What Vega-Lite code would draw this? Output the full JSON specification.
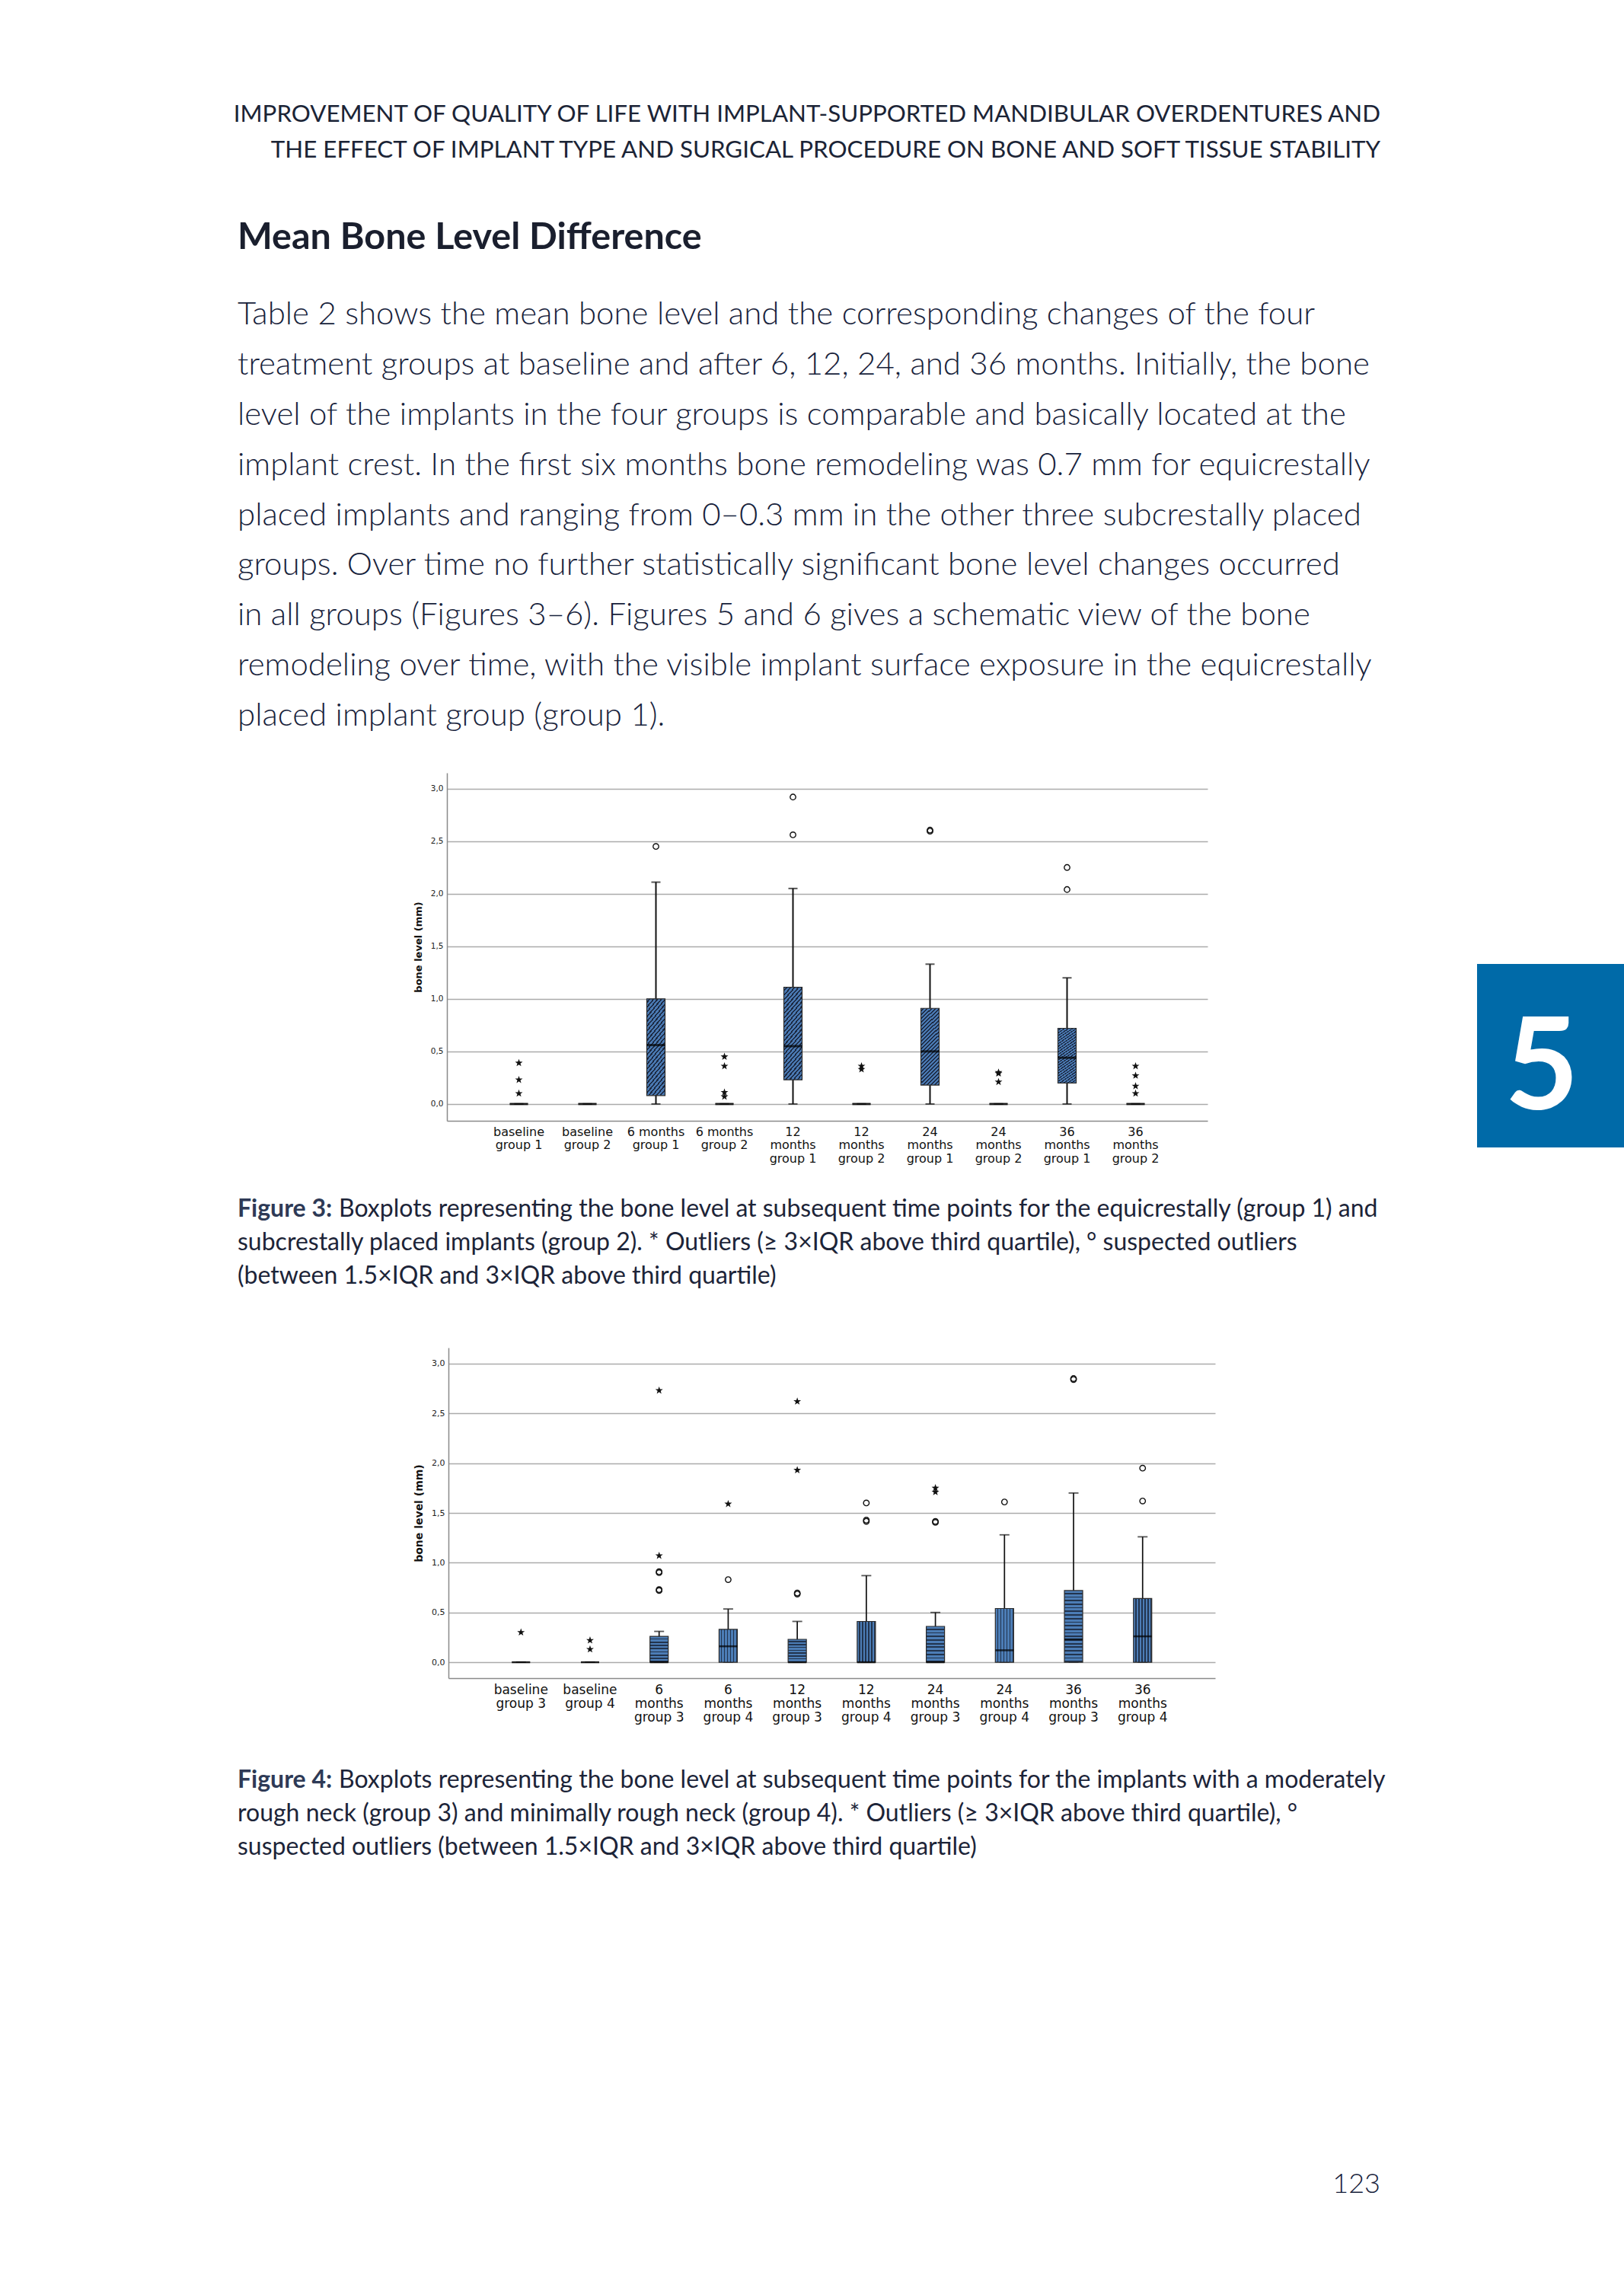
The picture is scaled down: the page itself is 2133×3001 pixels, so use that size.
{
"$schema":"https://vega.github.io/schema/vega-lite/v6.json",
"width":2133,"height":3001,
"autosize":{"type":"fit","contains":"padding"},
"padding":0,
"background":"#ffffff",
"config":{"view":{"stroke":null}},
"datasets":{
"header":[{"line":1,"text":"IMPROVEMENT OF QUALITY OF LIFE WITH IMPLANT-SUPPORTED MANDIBULAR OVERDENTURES AND"},{"line":2,"text":"THE EFFECT OF IMPLANT TYPE AND SURGICAL PROCEDURE ON BONE AND SOFT TISSUE STABILITY"}],
"heading":[{"line":1,"text":"Mean Bone Level Difference"}],
"para":[
{"line":1,"text":"Table 2 shows the mean bone level and the corresponding changes of the four"},
{"line":2,"text":"treatment groups at baseline and after 6, 12, 24, and 36 months. Initially, the bone"},
{"line":3,"text":"level of the implants in the four groups is comparable and basically located at the"},
{"line":4,"text":"implant crest. In the first six months bone remodeling was 0.7 mm for equicrestally"},
{"line":5,"text":"placed implants and ranging from 0–0.3 mm in the other three subcrestally placed"},
{"line":6,"text":"groups. Over time no further statistically significant bone level changes occurred"},
{"line":7,"text":"in all groups (Figures 3–6). Figures 5 and 6 gives a schematic view of the bone"},
{"line":8,"text":"remodeling over time, with the visible implant surface exposure in the equicrestally"},
{"line":9,"text":"placed implant group (group 1)."}],
"cap3":[
{"line":1,"lead":"Figure 3:","text":"Boxplots representing the bone level at subsequent time points for the equicrestally (group 1) and"},
{"line":2,"text":"subcrestally placed implants (group 2). * Outliers (≥ 3×IQR above third quartile), ° suspected outliers"},
{"line":3,"text":"(between 1.5×IQR and 3×IQR above third quartile)"}],
"cap4":[
{"line":1,"lead":"Figure 4:","text":"Boxplots representing the bone level at subsequent time points for the implants with a moderately"},
{"line":2,"text":"rough neck (group 3) and minimally rough neck (group 4). * Outliers (≥ 3×IQR above third quartile), °"},
{"line":3,"text":"suspected outliers (between 1.5×IQR and 3×IQR above third quartile)"}],
"page":[{"line":1,"text":"123"}],
"summary3":[
{"cat":"baseline group 1","lower":0,"q1":0,"median":0,"q3":0,"upper":0},
{"cat":"baseline group 2","lower":0,"q1":0,"median":0,"q3":0,"upper":0},
{"cat":"6 months group 1","lower":0,"q1":0.08,"median":0.56,"q3":1.0,"upper":2.11},
{"cat":"6 months group 2","lower":0,"q1":0,"median":0,"q3":0,"upper":0},
{"cat":"12 months group 1","lower":0,"q1":0.23,"median":0.55,"q3":1.11,"upper":2.05},
{"cat":"12 months group 2","lower":0,"q1":0,"median":0,"q3":0,"upper":0},
{"cat":"24 months group 1","lower":0,"q1":0.18,"median":0.5,"q3":0.91,"upper":1.33},
{"cat":"24 months group 2","lower":0,"q1":0,"median":0,"q3":0,"upper":0},
{"cat":"36 months group 1","lower":0,"q1":0.2,"median":0.44,"q3":0.72,"upper":1.2},
{"cat":"36 months group 2","lower":0,"q1":0,"median":0,"q3":0,"upper":0}],
"outliers3":[
{"cat":"baseline group 1","value":0.39,"kind":"extreme"},
{"cat":"baseline group 1","value":0.23,"kind":"extreme"},
{"cat":"baseline group 1","value":0.1,"kind":"extreme"},
{"cat":"6 months group 1","value":2.45,"kind":"suspected"},
{"cat":"6 months group 2","value":0.45,"kind":"extreme"},
{"cat":"6 months group 2","value":0.36,"kind":"extreme"},
{"cat":"6 months group 2","value":0.11,"kind":"extreme"},
{"cat":"6 months group 2","value":0.07,"kind":"extreme"},
{"cat":"12 months group 1","value":2.92,"kind":"suspected"},
{"cat":"12 months group 1","value":2.56,"kind":"suspected"},
{"cat":"12 months group 2","value":0.36,"kind":"extreme"},
{"cat":"12 months group 2","value":0.33,"kind":"extreme"},
{"cat":"24 months group 1","value":2.605,"kind":"suspected"},
{"cat":"24 months group 1","value":2.595,"kind":"suspected"},
{"cat":"24 months group 2","value":0.3,"kind":"extreme"},
{"cat":"24 months group 2","value":0.29,"kind":"extreme"},
{"cat":"24 months group 2","value":0.21,"kind":"extreme"},
{"cat":"36 months group 1","value":2.25,"kind":"suspected"},
{"cat":"36 months group 1","value":2.04,"kind":"suspected"},
{"cat":"36 months group 2","value":0.36,"kind":"extreme"},
{"cat":"36 months group 2","value":0.27,"kind":"extreme"},
{"cat":"36 months group 2","value":0.17,"kind":"extreme"},
{"cat":"36 months group 2","value":0.1,"kind":"extreme"}],
"summary4":[
{"cat":"baseline group 3","lower":0,"q1":0,"median":0,"q3":0,"upper":0},
{"cat":"baseline group 4","lower":0,"q1":0,"median":0,"q3":0,"upper":0},
{"cat":"6 months group 3","lower":0,"q1":0,"median":0,"q3":0.26,"upper":0.31},
{"cat":"6 months group 4","lower":0,"q1":0,"median":0.16,"q3":0.33,"upper":0.535},
{"cat":"12 months group 3","lower":0,"q1":0,"median":0,"q3":0.23,"upper":0.41},
{"cat":"12 months group 4","lower":0,"q1":0,"median":0,"q3":0.41,"upper":0.87},
{"cat":"24 months group 3","lower":0,"q1":0,"median":0,"q3":0.36,"upper":0.5},
{"cat":"24 months group 4","lower":0,"q1":0,"median":0.12,"q3":0.54,"upper":1.28},
{"cat":"36 months group 3","lower":0,"q1":0,"median":0.23,"q3":0.72,"upper":1.7},
{"cat":"36 months group 4","lower":0,"q1":0,"median":0.26,"q3":0.64,"upper":1.26}],
"outliers4":[
{"cat":"baseline group 3","value":0.3,"kind":"extreme"},
{"cat":"baseline group 4","value":0.22,"kind":"extreme"},
{"cat":"baseline group 4","value":0.13,"kind":"extreme"},
{"cat":"6 months group 3","value":2.73,"kind":"extreme"},
{"cat":"6 months group 3","value":1.07,"kind":"extreme"},
{"cat":"6 months group 3","value":0.91,"kind":"suspected"},
{"cat":"6 months group 3","value":0.9,"kind":"suspected"},
{"cat":"6 months group 3","value":0.73,"kind":"suspected"},
{"cat":"6 months group 3","value":0.72,"kind":"suspected"},
{"cat":"6 months group 4","value":1.59,"kind":"extreme"},
{"cat":"6 months group 4","value":0.83,"kind":"suspected"},
{"cat":"12 months group 3","value":2.62,"kind":"extreme"},
{"cat":"12 months group 3","value":1.93,"kind":"extreme"},
{"cat":"12 months group 3","value":0.695,"kind":"suspected"},
{"cat":"12 months group 3","value":0.685,"kind":"suspected"},
{"cat":"12 months group 4","value":1.6,"kind":"suspected"},
{"cat":"12 months group 4","value":1.428,"kind":"suspected"},
{"cat":"12 months group 4","value":1.415,"kind":"suspected"},
{"cat":"24 months group 3","value":1.75,"kind":"extreme"},
{"cat":"24 months group 3","value":1.71,"kind":"extreme"},
{"cat":"24 months group 3","value":1.415,"kind":"suspected"},
{"cat":"24 months group 3","value":1.405,"kind":"suspected"},
{"cat":"24 months group 4","value":1.61,"kind":"suspected"},
{"cat":"36 months group 3","value":2.85,"kind":"suspected"},
{"cat":"36 months group 3","value":2.84,"kind":"suspected"},
{"cat":"36 months group 4","value":1.95,"kind":"suspected"},
{"cat":"36 months group 4","value":1.62,"kind":"suspected"}]
},
"layer":[
{"data":{"name":"header"},
 "mark":{"type":"text","font":"Lato","fontSize":31.3,"align":"right","baseline":"alphabetic","color":"#1b2436"},
 "encoding":{"x":{"datum":1,"type":"quantitative","scale":{"domain":[0,1],"range":[312,1813],"nice":false,"zero":false},"axis":null},
  "y":{"field":"line","type":"quantitative","scale":{"domain":[1,2],"range":[160,207],"nice":false,"zero":false},"axis":null},
  "text":{"field":"text"}}},
{"data":{"name":"heading"},
 "mark":{"type":"text","font":"Lato","fontSize":48.5,"fontWeight":"bold","align":"left","baseline":"alphabetic","color":"#1a1f2e"},
 "encoding":{"x":{"datum":0,"type":"quantitative","scale":{"domain":[0,1],"range":[312,1813],"nice":false,"zero":false},"axis":null},
  "y":{"field":"line","type":"quantitative","scale":{"domain":[1,2],"range":[327,400],"nice":false,"zero":false},"axis":null},
  "text":{"field":"text"}}},
{"data":{"name":"para"},
 "mark":{"type":"text","font":"Lato","fontSize":42,"fontWeight":300,"align":"left","baseline":"alphabetic","color":"#17223b"},
 "encoding":{"x":{"datum":0,"type":"quantitative","scale":{"domain":[0,1],"range":[312,1813],"nice":false,"zero":false},"axis":null},
  "y":{"field":"line","type":"quantitative","scale":{"domain":[1,9],"range":[426,953],"nice":false,"zero":false},"axis":null},
  "text":{"field":"text"}}},
{"data":{"name":"cap3"},
 "layer":[
  {"transform":[{"filter":"datum.line == 1"}],
   "mark":{"type":"text","font":"Lato","fontSize":32,"fontWeight":"bold","align":"left","baseline":"alphabetic","color":"#2e3a56"},
   "encoding":{"text":{"field":"lead"}}},
  {"transform":[{"filter":"datum.line == 1"}],
   "mark":{"type":"text","font":"Lato","fontSize":32,"align":"left","baseline":"alphabetic","color":"#1c2438","dx":133},
   "encoding":{"text":{"field":"text"}}},
  {"transform":[{"filter":"datum.line > 1"}],
   "mark":{"type":"text","font":"Lato","fontSize":32,"align":"left","baseline":"alphabetic","color":"#1c2438"},
   "encoding":{"text":{"field":"text"}}}],
 "encoding":{"x":{"datum":0,"type":"quantitative","scale":{"domain":[0,1],"range":[312,1813],"nice":false,"zero":false},"axis":null},
  "y":{"field":"line","type":"quantitative","scale":{"domain":[1,3],"range":[1598,1686],"nice":false,"zero":false},"axis":null}}},
{"data":{"name":"cap4"},
 "layer":[
  {"transform":[{"filter":"datum.line == 1"}],
   "mark":{"type":"text","font":"Lato","fontSize":32,"fontWeight":"bold","align":"left","baseline":"alphabetic","color":"#2e3a56"},
   "encoding":{"text":{"field":"lead"}}},
  {"transform":[{"filter":"datum.line == 1"}],
   "mark":{"type":"text","font":"Lato","fontSize":32,"align":"left","baseline":"alphabetic","color":"#1c2438","dx":133},
   "encoding":{"text":{"field":"text"}}},
  {"transform":[{"filter":"datum.line > 1"}],
   "mark":{"type":"text","font":"Lato","fontSize":32,"align":"left","baseline":"alphabetic","color":"#1c2438"},
   "encoding":{"text":{"field":"text"}}}],
 "encoding":{"x":{"datum":0,"type":"quantitative","scale":{"domain":[0,1],"range":[312,1813],"nice":false,"zero":false},"axis":null},
  "y":{"field":"line","type":"quantitative","scale":{"domain":[1,3],"range":[2348,2436],"nice":false,"zero":false},"axis":null}}},
{"data":{"name":"page"},
 "mark":{"type":"text","font":"Lato","fontSize":36,"fontWeight":300,"align":"right","baseline":"alphabetic","color":"#17223b"},
 "encoding":{"x":{"datum":1,"type":"quantitative","scale":{"domain":[0,1],"range":[312,1813],"nice":false,"zero":false},"axis":null},
  "y":{"field":"line","type":"quantitative","scale":{"domain":[1,2],"range":[2880,2950],"nice":false,"zero":false},"axis":null},
  "text":{"field":"text"}}},
{"data":{"values":[{"label":"5"}]},
 "layer":[
  {"mark":{"type":"rect","fill":"#006aa8"},
   "encoding":{"x":{"datum":0,"type":"quantitative","scale":{"domain":[0,1],"range":[1940,2133],"nice":false,"zero":false},"axis":null},"x2":{"datum":1},
    "y":{"datum":0,"type":"quantitative","scale":{"domain":[0,1],"range":[1266,1507],"nice":false,"zero":false},"axis":null},"y2":{"datum":1}}},
  {"mark":{"type":"text","font":"Lato","fontSize":168,"fontWeight":"bold","align":"center","baseline":"alphabetic","color":"#ffffff"},
   "encoding":{"x":{"datum":0.44,"type":"quantitative","scale":{"domain":[0,1],"range":[1940,2133],"nice":false,"zero":false},"axis":null},
    "y":{"datum":0.793,"type":"quantitative","scale":{"domain":[0,1],"range":[1266,1507],"nice":false,"zero":false},"axis":null},
    "text":{"field":"label"}}}]},
{"encoding":{"x":{"field":"cat","type":"nominal","title":null,
   "scale":{"type":"band","domain":["baseline group 1","baseline group 2","6 months group 1","6 months group 2","12 months group 1","12 months group 2","24 months group 1","24 months group 2","36 months group 1","36 months group 2"],"range":[587,1586],"paddingInner":0,"paddingOuter":0.55},
   "axis":{"orient":"bottom","offset":-1529,"grid":false,"ticks":false,"tickSize":0,"domainColor":"#8a8a8a","domainWidth":1.5,"labelAngle":0,"labelFont":"DejaVu Sans","labelFontSize":16,"labelColor":"#111111","labelPadding":6,"labelBaseline":"top","labelLineHeight":17.5,"labelLimit":300,
    "labelExpr":"split(replace(replace(datum.label, ' group', '|group'), regexp('^([0-9][0-9]) months'), '$1|months'), '|')"}}},
 "layer":[
  {"data":{"name":"summary3"},"mark":{"type":"rule","color":"#111111","strokeWidth":2},
   "encoding":{"y":{"field":"lower","type":"quantitative","title":"bone level (mm)","scale":{"domain":[-0.16,3.15],"range":[1472,1015],"nice":false,"zero":false},
     "axis":{"orient":"left","offset":-587,"values":[0,0.5,1,1.5,2,2.5,3],"labelExpr":"replace(format(datum.value,'.1f'),'.',',')","ticks":false,"tickSize":0,"labelFont":"DejaVu Sans","labelFontSize":10.5,"labelColor":"#222222","labelPadding":5,"grid":true,"gridColor":"#ababab","gridWidth":1.3,"domainColor":"#8a8a8a","domainWidth":1.5,"title":"bone level (mm)","titleFont":"DejaVu Sans","titleFontSize":13,"titleFontWeight":"bold","titleColor":"#111111","titlePadding":9}},
    "y2":{"field":"upper"}}},
  {"data":{"name":"summary3"},"mark":{"type":"tick","color":"#111111","size":12,"thickness":2},
   "encoding":{"y":{"field":"upper","type":"quantitative","title":"bone level (mm)","scale":{"domain":[-0.16,3.15],"range":[1472,1015],"nice":false,"zero":false}}}},
  {"data":{"name":"summary3"},"mark":{"type":"tick","color":"#111111","size":12,"thickness":2},
   "encoding":{"y":{"field":"lower","type":"quantitative","title":"bone level (mm)","scale":{"domain":[-0.16,3.15],"range":[1472,1015],"nice":false,"zero":false}}}},
  {"data":{"name":"summary3"},"mark":{"type":"bar","width":24,"stroke":"#2b2b2b","strokeWidth":1.2,
    "fill":{"gradient":"linear","x1":0,"y1":0,"x2":0.269,"y2":1.168,"stops":[
{"offset":0,"color":"#4a79b2"},{"offset":0.024,"color":"#4a79b2"},{"offset":0.024,"color":"#1b2840"},{"offset":0.04,"color":"#1b2840"},
{"offset":0.04,"color":"#4a79b2"},{"offset":0.064,"color":"#4a79b2"},{"offset":0.064,"color":"#1b2840"},{"offset":0.08,"color":"#1b2840"},
{"offset":0.08,"color":"#4a79b2"},{"offset":0.104,"color":"#4a79b2"},{"offset":0.104,"color":"#1b2840"},{"offset":0.12,"color":"#1b2840"},
{"offset":0.12,"color":"#4a79b2"},{"offset":0.144,"color":"#4a79b2"},{"offset":0.144,"color":"#1b2840"},{"offset":0.16,"color":"#1b2840"},
{"offset":0.16,"color":"#4a79b2"},{"offset":0.184,"color":"#4a79b2"},{"offset":0.184,"color":"#1b2840"},{"offset":0.2,"color":"#1b2840"},
{"offset":0.2,"color":"#4a79b2"},{"offset":0.224,"color":"#4a79b2"},{"offset":0.224,"color":"#1b2840"},{"offset":0.24,"color":"#1b2840"},
{"offset":0.24,"color":"#4a79b2"},{"offset":0.264,"color":"#4a79b2"},{"offset":0.264,"color":"#1b2840"},{"offset":0.28,"color":"#1b2840"},
{"offset":0.28,"color":"#4a79b2"},{"offset":0.304,"color":"#4a79b2"},{"offset":0.304,"color":"#1b2840"},{"offset":0.32,"color":"#1b2840"},
{"offset":0.32,"color":"#4a79b2"},{"offset":0.344,"color":"#4a79b2"},{"offset":0.344,"color":"#1b2840"},{"offset":0.36,"color":"#1b2840"},
{"offset":0.36,"color":"#4a79b2"},{"offset":0.384,"color":"#4a79b2"},{"offset":0.384,"color":"#1b2840"},{"offset":0.4,"color":"#1b2840"},
{"offset":0.4,"color":"#4a79b2"},{"offset":0.424,"color":"#4a79b2"},{"offset":0.424,"color":"#1b2840"},{"offset":0.44,"color":"#1b2840"},
{"offset":0.44,"color":"#4a79b2"},{"offset":0.464,"color":"#4a79b2"},{"offset":0.464,"color":"#1b2840"},{"offset":0.48,"color":"#1b2840"},
{"offset":0.48,"color":"#4a79b2"},{"offset":0.504,"color":"#4a79b2"},{"offset":0.504,"color":"#1b2840"},{"offset":0.52,"color":"#1b2840"},
{"offset":0.52,"color":"#4a79b2"},{"offset":0.544,"color":"#4a79b2"},{"offset":0.544,"color":"#1b2840"},{"offset":0.56,"color":"#1b2840"},
{"offset":0.56,"color":"#4a79b2"},{"offset":0.584,"color":"#4a79b2"},{"offset":0.584,"color":"#1b2840"},{"offset":0.6,"color":"#1b2840"},
{"offset":0.6,"color":"#4a79b2"},{"offset":0.624,"color":"#4a79b2"},{"offset":0.624,"color":"#1b2840"},{"offset":0.64,"color":"#1b2840"},
{"offset":0.64,"color":"#4a79b2"},{"offset":0.664,"color":"#4a79b2"},{"offset":0.664,"color":"#1b2840"},{"offset":0.68,"color":"#1b2840"},
{"offset":0.68,"color":"#4a79b2"},{"offset":0.704,"color":"#4a79b2"},{"offset":0.704,"color":"#1b2840"},{"offset":0.72,"color":"#1b2840"},
{"offset":0.72,"color":"#4a79b2"},{"offset":0.744,"color":"#4a79b2"},{"offset":0.744,"color":"#1b2840"},{"offset":0.76,"color":"#1b2840"},
{"offset":0.76,"color":"#4a79b2"},{"offset":0.784,"color":"#4a79b2"},{"offset":0.784,"color":"#1b2840"},{"offset":0.8,"color":"#1b2840"},
{"offset":0.8,"color":"#4a79b2"},{"offset":0.824,"color":"#4a79b2"},{"offset":0.824,"color":"#1b2840"},{"offset":0.84,"color":"#1b2840"},
{"offset":0.84,"color":"#4a79b2"},{"offset":0.864,"color":"#4a79b2"},{"offset":0.864,"color":"#1b2840"},{"offset":0.88,"color":"#1b2840"},
{"offset":0.88,"color":"#4a79b2"},{"offset":0.904,"color":"#4a79b2"},{"offset":0.904,"color":"#1b2840"},{"offset":0.92,"color":"#1b2840"},
{"offset":0.92,"color":"#4a79b2"},{"offset":0.944,"color":"#4a79b2"},{"offset":0.944,"color":"#1b2840"},{"offset":0.96,"color":"#1b2840"},
{"offset":0.96,"color":"#4a79b2"},{"offset":0.984,"color":"#4a79b2"},{"offset":0.984,"color":"#1b2840"},{"offset":1,"color":"#1b2840"}]}},
   "encoding":{"y":{"field":"q1","type":"quantitative","title":"bone level (mm)","scale":{"domain":[-0.16,3.15],"range":[1472,1015],"nice":false,"zero":false}},"y2":{"field":"q3"}}},
  {"data":{"name":"summary3"},"mark":{"type":"tick","color":"#000000","size":24,"thickness":3},
   "encoding":{"y":{"field":"median","type":"quantitative","title":"bone level (mm)","scale":{"domain":[-0.16,3.15],"range":[1472,1015],"nice":false,"zero":false}}}},
  {"data":{"name":"outliers3"},"transform":[{"filter":"datum.kind == 'suspected'"}],
   "mark":{"type":"point","shape":"circle","filled":false,"color":"#111111","strokeWidth":1.4,"size":55,"opacity":1},
   "encoding":{"y":{"field":"value","type":"quantitative","title":"bone level (mm)","scale":{"domain":[-0.16,3.15],"range":[1472,1015],"nice":false,"zero":false}}}},
  {"data":{"name":"outliers3"},"transform":[{"filter":"datum.kind == 'extreme'"}],
   "mark":{"type":"point","shape":"M0,-1L0.235,-0.324L0.951,-0.309L0.38,0.124L0.588,0.809L0,0.4L-0.588,0.809L-0.38,0.124L-0.951,-0.309L-0.235,-0.324Z","filled":true,"color":"#111111","strokeWidth":0,"size":110,"opacity":1},
   "encoding":{"y":{"field":"value","type":"quantitative","title":"bone level (mm)","scale":{"domain":[-0.16,3.15],"range":[1472,1015],"nice":false,"zero":false}}}}]},
{"encoding":{"x":{"field":"cat","type":"nominal","title":null,
   "scale":{"type":"band","domain":["baseline group 3","baseline group 4","6 months group 3","6 months group 4","12 months group 3","12 months group 4","24 months group 3","24 months group 4","36 months group 3","36 months group 4"],"range":[589,1596],"paddingInner":0,"paddingOuter":0.55},
   "axis":{"orient":"bottom","offset":-797,"grid":false,"ticks":false,"tickSize":0,"domainColor":"#8a8a8a","domainWidth":1.5,"labelAngle":0,"labelFont":"DejaVu Sans","labelFontSize":17,"labelColor":"#111111","labelPadding":7,"labelBaseline":"top","labelLineHeight":18.3,"labelLimit":300,
    "labelExpr":"split(replace(replace(datum.label, ' group', '|group'), regexp('^([0-9]+) months'), '$1|months'), '|')"}}},
 "layer":[
  {"data":{"name":"summary4"},"mark":{"type":"rule","color":"#111111","strokeWidth":1.7},
   "encoding":{"y":{"field":"lower","type":"quantitative","title":"bone level (mm)","scale":{"domain":[-0.16,3.16],"range":[2204,1770],"nice":false,"zero":false},
     "axis":{"orient":"left","offset":-589,"values":[0,0.5,1,1.5,2,2.5,3],"labelExpr":"replace(format(datum.value,'.1f'),'.',',')","ticks":false,"tickSize":0,"labelFont":"DejaVu Sans","labelFontSize":11,"labelColor":"#222222","labelPadding":5,"grid":true,"gridColor":"#ababab","gridWidth":1.3,"domainColor":"#8a8a8a","domainWidth":1.5,"title":"bone level (mm)","titleFont":"DejaVu Sans","titleFontSize":14,"titleFontWeight":"bold","titleColor":"#111111","titlePadding":9}},
    "y2":{"field":"upper"}}},
  {"data":{"name":"summary4"},"mark":{"type":"tick","color":"#111111","size":13,"thickness":1.8},
   "encoding":{"y":{"field":"upper","type":"quantitative","title":"bone level (mm)","scale":{"domain":[-0.16,3.16],"range":[2204,1770],"nice":false,"zero":false}}}},
  {"data":{"name":"summary4"},"mark":{"type":"tick","color":"#111111","size":13,"thickness":1.8},
   "encoding":{"y":{"field":"lower","type":"quantitative","title":"bone level (mm)","scale":{"domain":[-0.16,3.16],"range":[2204,1770],"nice":false,"zero":false}}}},
  {"data":{"name":"summary4"},"transform":[{"filter":"indexof(datum.cat, 'group 4') >= 0"}],
   "mark":{"type":"bar","width":24,"stroke":"#2b2b2b","strokeWidth":1.2,
    "fill":{"gradient":"linear","x1":0,"y1":0,"x2":1,"y2":0,"stops":[
{"offset":0,"color":"#4c7db6"},{"offset":0.103,"color":"#4c7db6"},{"offset":0.103,"color":"#22344e"},{"offset":0.1667,"color":"#22344e"},
{"offset":0.1667,"color":"#4c7db6"},{"offset":0.27,"color":"#4c7db6"},{"offset":0.27,"color":"#22344e"},{"offset":0.3333,"color":"#22344e"},
{"offset":0.3333,"color":"#4c7db6"},{"offset":0.4367,"color":"#4c7db6"},{"offset":0.4367,"color":"#22344e"},{"offset":0.5,"color":"#22344e"},
{"offset":0.5,"color":"#4c7db6"},{"offset":0.6033,"color":"#4c7db6"},{"offset":0.6033,"color":"#22344e"},{"offset":0.6667,"color":"#22344e"},
{"offset":0.6667,"color":"#4c7db6"},{"offset":0.77,"color":"#4c7db6"},{"offset":0.77,"color":"#22344e"},{"offset":0.8333,"color":"#22344e"},
{"offset":0.8333,"color":"#4c7db6"},{"offset":0.9367,"color":"#4c7db6"},{"offset":0.9367,"color":"#22344e"},{"offset":1,"color":"#22344e"}]}},
   "encoding":{"y":{"field":"q1","type":"quantitative","title":"bone level (mm)","scale":{"domain":[-0.16,3.16],"range":[2204,1770],"nice":false,"zero":false}},"y2":{"field":"q3"}}},
  {"data":{"name":"summary4"},"transform":[{"filter":"datum.cat == 'baseline group 3' || datum.cat == '6 months group 3' || datum.cat == '12 months group 3'"}],
   "mark":{"type":"bar","width":24,"stroke":"#2b2b2b","strokeWidth":1.2,
    "fill":{"gradient":"linear","x1":0,"y1":0,"x2":0,"y2":1,"stops":[
{"offset":0,"color":"#4c7db6"},{"offset":0.078,"color":"#4c7db6"},{"offset":0.078,"color":"#22344e"},{"offset":0.125,"color":"#22344e"},
{"offset":0.125,"color":"#4c7db6"},{"offset":0.203,"color":"#4c7db6"},{"offset":0.203,"color":"#22344e"},{"offset":0.25,"color":"#22344e"},
{"offset":0.25,"color":"#4c7db6"},{"offset":0.328,"color":"#4c7db6"},{"offset":0.328,"color":"#22344e"},{"offset":0.375,"color":"#22344e"},
{"offset":0.375,"color":"#4c7db6"},{"offset":0.453,"color":"#4c7db6"},{"offset":0.453,"color":"#22344e"},{"offset":0.5,"color":"#22344e"},
{"offset":0.5,"color":"#4c7db6"},{"offset":0.578,"color":"#4c7db6"},{"offset":0.578,"color":"#22344e"},{"offset":0.625,"color":"#22344e"},
{"offset":0.625,"color":"#4c7db6"},{"offset":0.703,"color":"#4c7db6"},{"offset":0.703,"color":"#22344e"},{"offset":0.75,"color":"#22344e"},
{"offset":0.75,"color":"#4c7db6"},{"offset":0.828,"color":"#4c7db6"},{"offset":0.828,"color":"#22344e"},{"offset":0.875,"color":"#22344e"},
{"offset":0.875,"color":"#4c7db6"},{"offset":0.953,"color":"#4c7db6"},{"offset":0.953,"color":"#22344e"},{"offset":1,"color":"#22344e"}]}},
   "encoding":{"y":{"field":"q1","type":"quantitative","title":"bone level (mm)","scale":{"domain":[-0.16,3.16],"range":[2204,1770],"nice":false,"zero":false}},"y2":{"field":"q3"}}},
  {"data":{"name":"summary4"},"transform":[{"filter":"datum.cat == '24 months group 3'"}],
   "mark":{"type":"bar","width":24,"stroke":"#2b2b2b","strokeWidth":1.2,
    "fill":{"gradient":"linear","x1":0,"y1":0,"x2":0,"y2":1,"stops":[
{"offset":0,"color":"#4c7db6"},{"offset":0.062,"color":"#4c7db6"},{"offset":0.062,"color":"#22344e"},{"offset":0.1,"color":"#22344e"},
{"offset":0.1,"color":"#4c7db6"},{"offset":0.162,"color":"#4c7db6"},{"offset":0.162,"color":"#22344e"},{"offset":0.2,"color":"#22344e"},
{"offset":0.2,"color":"#4c7db6"},{"offset":0.262,"color":"#4c7db6"},{"offset":0.262,"color":"#22344e"},{"offset":0.3,"color":"#22344e"},
{"offset":0.3,"color":"#4c7db6"},{"offset":0.362,"color":"#4c7db6"},{"offset":0.362,"color":"#22344e"},{"offset":0.4,"color":"#22344e"},
{"offset":0.4,"color":"#4c7db6"},{"offset":0.462,"color":"#4c7db6"},{"offset":0.462,"color":"#22344e"},{"offset":0.5,"color":"#22344e"},
{"offset":0.5,"color":"#4c7db6"},{"offset":0.562,"color":"#4c7db6"},{"offset":0.562,"color":"#22344e"},{"offset":0.6,"color":"#22344e"},
{"offset":0.6,"color":"#4c7db6"},{"offset":0.662,"color":"#4c7db6"},{"offset":0.662,"color":"#22344e"},{"offset":0.7,"color":"#22344e"},
{"offset":0.7,"color":"#4c7db6"},{"offset":0.762,"color":"#4c7db6"},{"offset":0.762,"color":"#22344e"},{"offset":0.8,"color":"#22344e"},
{"offset":0.8,"color":"#4c7db6"},{"offset":0.862,"color":"#4c7db6"},{"offset":0.862,"color":"#22344e"},{"offset":0.9,"color":"#22344e"},
{"offset":0.9,"color":"#4c7db6"},{"offset":0.962,"color":"#4c7db6"},{"offset":0.962,"color":"#22344e"},{"offset":1,"color":"#22344e"}]}},
   "encoding":{"y":{"field":"q1","type":"quantitative","title":"bone level (mm)","scale":{"domain":[-0.16,3.16],"range":[2204,1770],"nice":false,"zero":false}},"y2":{"field":"q3"}}},
  {"data":{"name":"summary4"},"transform":[{"filter":"datum.cat == '36 months group 3'"}],
   "mark":{"type":"bar","width":24,"stroke":"#2b2b2b","strokeWidth":1.2,
    "fill":{"gradient":"linear","x1":0,"y1":0,"x2":0,"y2":1,"stops":[
{"offset":0,"color":"#4c7db6"},{"offset":0.031,"color":"#4c7db6"},{"offset":0.031,"color":"#22344e"},{"offset":0.05,"color":"#22344e"},
{"offset":0.05,"color":"#4c7db6"},{"offset":0.081,"color":"#4c7db6"},{"offset":0.081,"color":"#22344e"},{"offset":0.1,"color":"#22344e"},
{"offset":0.1,"color":"#4c7db6"},{"offset":0.131,"color":"#4c7db6"},{"offset":0.131,"color":"#22344e"},{"offset":0.15,"color":"#22344e"},
{"offset":0.15,"color":"#4c7db6"},{"offset":0.181,"color":"#4c7db6"},{"offset":0.181,"color":"#22344e"},{"offset":0.2,"color":"#22344e"},
{"offset":0.2,"color":"#4c7db6"},{"offset":0.231,"color":"#4c7db6"},{"offset":0.231,"color":"#22344e"},{"offset":0.25,"color":"#22344e"},
{"offset":0.25,"color":"#4c7db6"},{"offset":0.281,"color":"#4c7db6"},{"offset":0.281,"color":"#22344e"},{"offset":0.3,"color":"#22344e"},
{"offset":0.3,"color":"#4c7db6"},{"offset":0.331,"color":"#4c7db6"},{"offset":0.331,"color":"#22344e"},{"offset":0.35,"color":"#22344e"},
{"offset":0.35,"color":"#4c7db6"},{"offset":0.381,"color":"#4c7db6"},{"offset":0.381,"color":"#22344e"},{"offset":0.4,"color":"#22344e"},
{"offset":0.4,"color":"#4c7db6"},{"offset":0.431,"color":"#4c7db6"},{"offset":0.431,"color":"#22344e"},{"offset":0.45,"color":"#22344e"},
{"offset":0.45,"color":"#4c7db6"},{"offset":0.481,"color":"#4c7db6"},{"offset":0.481,"color":"#22344e"},{"offset":0.5,"color":"#22344e"},
{"offset":0.5,"color":"#4c7db6"},{"offset":0.531,"color":"#4c7db6"},{"offset":0.531,"color":"#22344e"},{"offset":0.55,"color":"#22344e"},
{"offset":0.55,"color":"#4c7db6"},{"offset":0.581,"color":"#4c7db6"},{"offset":0.581,"color":"#22344e"},{"offset":0.6,"color":"#22344e"},
{"offset":0.6,"color":"#4c7db6"},{"offset":0.631,"color":"#4c7db6"},{"offset":0.631,"color":"#22344e"},{"offset":0.65,"color":"#22344e"},
{"offset":0.65,"color":"#4c7db6"},{"offset":0.681,"color":"#4c7db6"},{"offset":0.681,"color":"#22344e"},{"offset":0.7,"color":"#22344e"},
{"offset":0.7,"color":"#4c7db6"},{"offset":0.731,"color":"#4c7db6"},{"offset":0.731,"color":"#22344e"},{"offset":0.75,"color":"#22344e"},
{"offset":0.75,"color":"#4c7db6"},{"offset":0.781,"color":"#4c7db6"},{"offset":0.781,"color":"#22344e"},{"offset":0.8,"color":"#22344e"},
{"offset":0.8,"color":"#4c7db6"},{"offset":0.831,"color":"#4c7db6"},{"offset":0.831,"color":"#22344e"},{"offset":0.85,"color":"#22344e"},
{"offset":0.85,"color":"#4c7db6"},{"offset":0.881,"color":"#4c7db6"},{"offset":0.881,"color":"#22344e"},{"offset":0.9,"color":"#22344e"},
{"offset":0.9,"color":"#4c7db6"},{"offset":0.931,"color":"#4c7db6"},{"offset":0.931,"color":"#22344e"},{"offset":0.95,"color":"#22344e"},
{"offset":0.95,"color":"#4c7db6"},{"offset":0.981,"color":"#4c7db6"},{"offset":0.981,"color":"#22344e"},{"offset":1,"color":"#22344e"}]}},
   "encoding":{"y":{"field":"q1","type":"quantitative","title":"bone level (mm)","scale":{"domain":[-0.16,3.16],"range":[2204,1770],"nice":false,"zero":false}},"y2":{"field":"q3"}}},
  {"data":{"name":"summary4"},"mark":{"type":"tick","color":"#000000","size":24,"thickness":2.5},
   "encoding":{"y":{"field":"median","type":"quantitative","title":"bone level (mm)","scale":{"domain":[-0.16,3.16],"range":[2204,1770],"nice":false,"zero":false}}}},
  {"data":{"name":"outliers4"},"transform":[{"filter":"datum.kind == 'suspected'"}],
   "mark":{"type":"point","shape":"circle","filled":false,"color":"#111111","strokeWidth":1.4,"size":55,"opacity":1},
   "encoding":{"y":{"field":"value","type":"quantitative","title":"bone level (mm)","scale":{"domain":[-0.16,3.16],"range":[2204,1770],"nice":false,"zero":false}}}},
  {"data":{"name":"outliers4"},"transform":[{"filter":"datum.kind == 'extreme'"}],
   "mark":{"type":"point","shape":"M0,-1L0.235,-0.324L0.951,-0.309L0.38,0.124L0.588,0.809L0,0.4L-0.588,0.809L-0.38,0.124L-0.951,-0.309L-0.235,-0.324Z","filled":true,"color":"#111111","strokeWidth":0,"size":110,"opacity":1},
   "encoding":{"y":{"field":"value","type":"quantitative","title":"bone level (mm)","scale":{"domain":[-0.16,3.16],"range":[2204,1770],"nice":false,"zero":false}}}}]}
],
"resolve":{"scale":{"x":"independent","y":"independent"},"axis":{"x":"independent","y":"independent"}}
}
